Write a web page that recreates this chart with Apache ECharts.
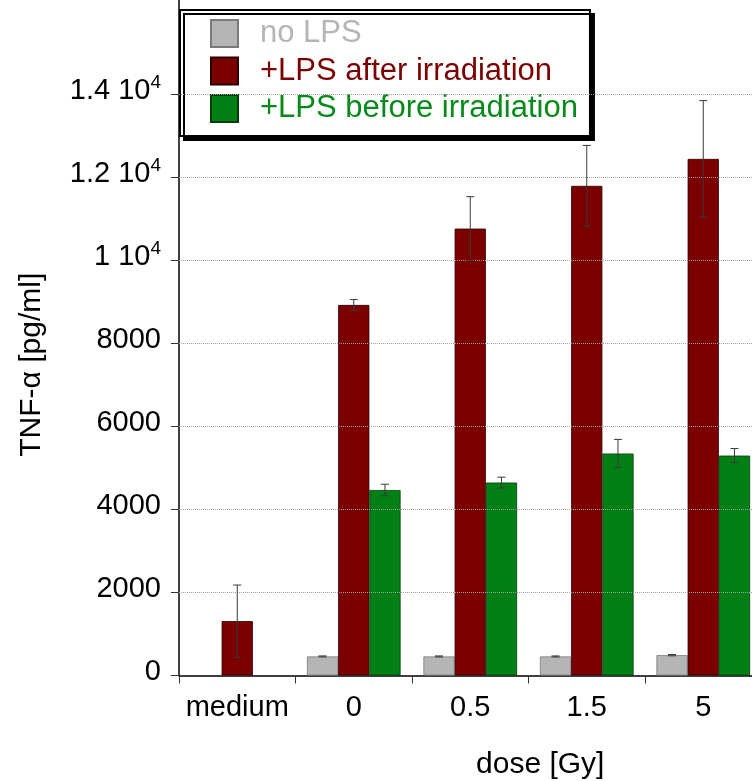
<!DOCTYPE html>
<html>
<head>
<meta charset="utf-8">
<script src="https://cdn.jsdelivr.net/npm/echarts@6/dist/echarts.min.js"></script>
</head>
<body style="margin:0; background:#fff">
<div id="chart" style="width:752px; height:781px;"></div>
<script>
// data
const categories = ['medium', '0', '0.5', '1.5', '5'];
const seriesNames = ['no LPS', '+LPS after irradiation', '+LPS before irradiation'];
const noLps = [null, 460, 460, 460, 490];
const noLpsErr = [null, 12, 12, 12, 15];
const lpsAfter = [1310, 8930, 10770, 11800, 12450];
const lpsAfterErr = [870, 130, 770, 975, 1405];
const lpsBefore = [null, 4470, 4650, 5350, 5300];
const lpsBeforeErr = [null, 140, 130, 340, 170];
const yTicks = [0, 2000, 4000, 6000, 8000, 10000, 12000, 14000];
const gridValues = [2000, 4000, 6000, 8000, 10000, 12000, 14000];

const colors = ['#b5b5b5', '#7b0000', '#027f15'];
const borders = ['#7a7a7a', '#2a0000', '#013d0a'];
const textColors = ['#b5b5b5', '#7b0000', '#068a1a'];
const FONT = '"Liberation Sans", Arial, sans-serif';
const CAT_GAP = 0.196;

const chart = echarts.init(document.getElementById('chart'), null, { renderer: 'canvas' });

const means = [noLps, lpsAfter, lpsBefore];
const errs = [noLpsErr, lpsAfterErr, lpsBeforeErr];
const errData = [];
means.forEach((arr, k) => {
  arr.forEach((v, i) => {
    if (v != null) errData.push([i, k, v, errs[k][i]]);
  });
});

function yLabel(v) {
  if (v >= 10000) {
    return '{a|' + (v / 10000) + ' 10}{s|4}';
  }
  return '{a|' + v + '}';
}

const barSeries = seriesNames.map((name, k) => ({
  name: name,
  type: 'bar',
  data: means[k],
  barGap: '0%',
  barCategoryGap: (CAT_GAP * 100) + '%',
  itemStyle: { color: colors[k], borderColor: borders[k], borderWidth: 0.8 },
  z: 2
}));

const option = {
  animation: false,
  textStyle: { fontFamily: FONT },
  grid: { left: 179, top: 0, width: 582.5, bottom: 105.5, containLabel: false, outerBoundsMode: 'none' },
  legend: {
    orient: 'vertical',
    left: 180,
    top: 10,
    icon: 'rect',
    itemWidth: 27,
    itemHeight: 27,
    itemGap: 6.5,
    padding: [8, 12, 12, 30],
    backgroundColor: '#fff',
    borderColor: '#000',
    borderWidth: 2,
    shadowColor: '#000',
    shadowBlur: 0,
    shadowOffsetX: 4,
    shadowOffsetY: 4,
    textStyle: { fontSize: 31, fontFamily: FONT, padding: [0, 0, 0, 17] },
    data: seriesNames.map((n, k) => ({ name: n, textStyle: { color: textColors[k] } }))
  },
  xAxis: {
    type: 'category',
    data: categories,
    name: 'dose [Gy]',
    nameLocation: 'middle',
    nameGap: 74,
    nameTextStyle: { fontSize: 30, color: '#000', padding: [0, 0, 0, 140] },
    axisLine: { lineStyle: { color: '#000', width: 1.5 } },
    axisTick: { show: true, interval: 0, length: 8, alignWithLabel: false, lineStyle: { color: '#333' } },
    axisLabel: { interval: 0, fontSize: 29, color: '#000', margin: 18 }
  },
  yAxis: {
    type: 'value',
    min: 0,
    max: 16280,
    interval: 2000,
    name: 'TNF-α [pg/ml]',
    nameLocation: 'middle',
    nameGap: 132,
    nameTextStyle: { fontSize: 30, color: '#000', padding: [0, 54, 0, 0] },
    axisLine: { show: true, lineStyle: { color: '#000', width: 1.5 } },
    axisTick: { show: true, length: 8, customValues: yTicks, lineStyle: { color: '#333' } },
    splitLine: { show: false },
    axisLabel: {
      margin: 18,
      customValues: yTicks,
      formatter: yLabel,
      padding: [0, 0, 8, 0],
      rich: {
        a: { fontSize: 29, color: '#000', fontFamily: FONT, lineHeight: 34 },
        s: { fontSize: 19, color: '#000', fontFamily: FONT, verticalAlign: 'top', lineHeight: 34 }
      }
    }
  },
  series: [
    {
      name: 'grid',
      type: 'custom',
      data: [],
      renderItem: () => null,
      z: 1,
      markLine: {
        silent: true,
        symbol: 'none',
        label: { show: false },
        lineStyle: { type: 'dotted', color: '#a0a0a0', width: 1 },
        data: gridValues.map(v => ({ yAxis: v }))
      }
    },
    ...barSeries,
    {
      name: 'errors',
      type: 'custom',
      data: errData,
      z: 5,
      encode: { x: 0, y: 2 },
      renderItem: function (params, api) {
        const cat = api.value(0);
        const k = api.value(1);
        const m = api.value(2);
        const e = api.value(3);
        const band = api.size([1, 0])[0];
        const barW = band * (1 - CAT_GAP) / 3;
        const dx = (k - 1) * barW;
        const top = api.coord([cat, m + e]);
        const bot = api.coord([cat, m - e]);
        const x = top[0] + dx;
        const cap = 4;
        const style = { stroke: '#3a3a3a', lineWidth: 1 };
        return {
          type: 'group',
          children: [
            { type: 'line', shape: { x1: x, y1: top[1], x2: x, y2: bot[1] }, style: style },
            { type: 'line', shape: { x1: x - cap, y1: top[1], x2: x + cap, y2: top[1] }, style: style },
            { type: 'line', shape: { x1: x - cap, y1: bot[1], x2: x + cap, y2: bot[1] }, style: style }
          ]
        };
      }
    }
  ]
};

chart.setOption(option);
</script>
</body>
</html>
